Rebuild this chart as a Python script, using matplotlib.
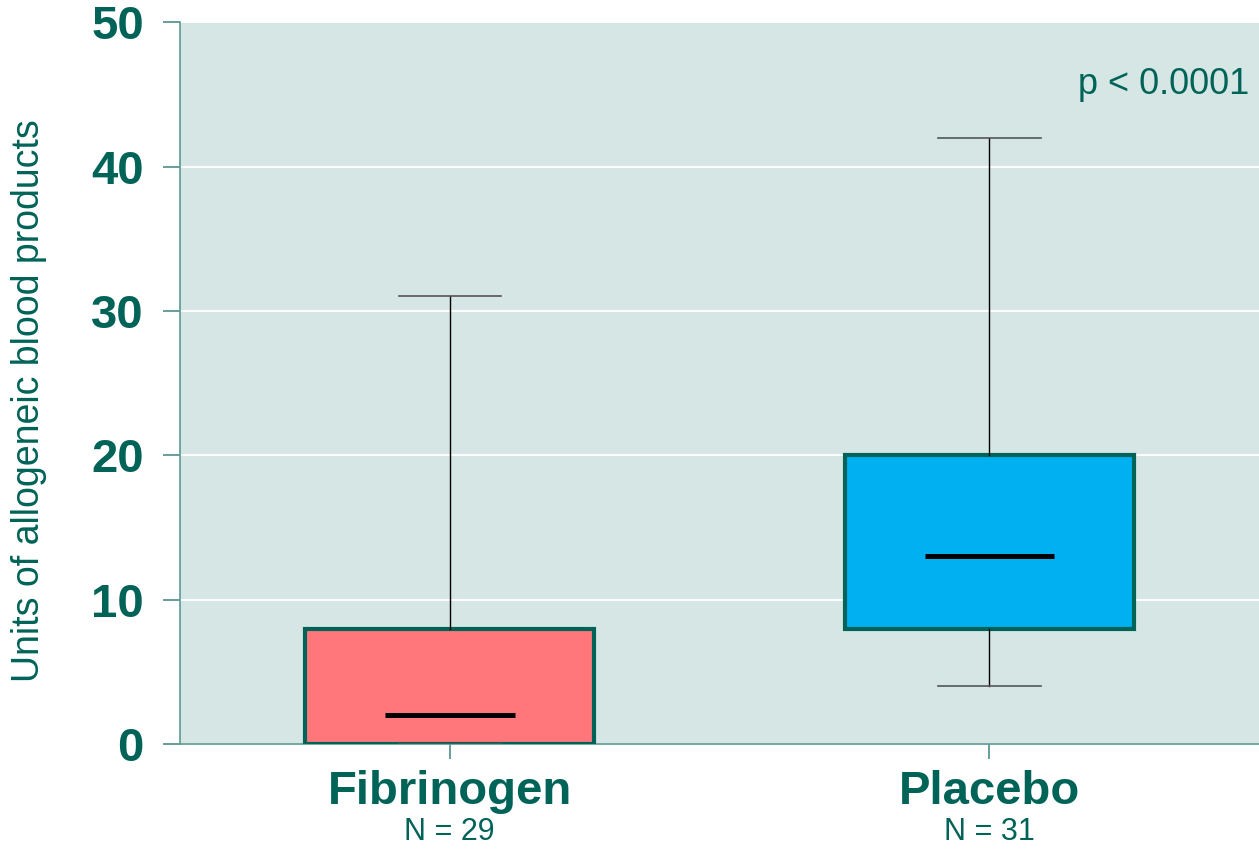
import matplotlib
matplotlib.use("Agg")
import matplotlib.pyplot as plt
from matplotlib.transforms import blended_transform_factory

groups=["Fibrinogen","Placebo"]
group_n=[29,31]
whisker_low=[0,4]
q1=[0,8]
medians=[2,13]
q3=[8,20]
whisker_high=[31,42]
fills=["#FF767B","#00B0F0"]
y_ticks=[0,10,20,30,40,50]
p_text="p < 0.0001"

TEAL="#006358"
plt.rcParams["font.family"]=["Liberation Sans","DejaVu Sans"]

fig=plt.figure(figsize=(12.59,8.51),dpi=100)
ax=fig.add_axes([0.143,0.1257,0.857,0.8483])
ax.set_facecolor("#D6E6E5")
stats=[{"label":g,"whislo":lo,"q1":a,"med":m,"q3":b,"whishi":hi,"fliers":[]} for g,lo,a,m,b,hi in zip(groups,whisker_low,q1,medians,q3,whisker_high)]
bp=ax.bxp(stats,positions=[1,2],widths=0.535,patch_artist=True,showfliers=False,
          boxprops=dict(edgecolor=TEAL,linewidth=3.0),medianprops=dict(color="black",linewidth=3.6),
          whiskerprops=dict(color="black",linewidth=1),capprops=dict(color="#555555",linewidth=1.2),capwidths=0.19,zorder=3)
for patch,c in zip(bp["boxes"],fills):patch.set_facecolor(c)
for i,line in enumerate(bp["medians"]):
    x0=[1,2][i];line.set_xdata([x0-0.12,x0+0.12])
ax.set_xlim(0.5,2.5);ax.set_ylim(0,50)
ax.set_yticks(y_ticks);ax.set_yticklabels([str(t) for t in y_ticks],fontsize=34,fontweight="bold",color=TEAL)
ax.yaxis.grid(True,color="white",linewidth=1.3);ax.set_axisbelow(True)
ax.set_xticks([1,2]);ax.set_xticklabels(groups,fontsize=34,fontweight="bold",color=TEAL)
ax.tick_params(axis="y",length=12,width=1.2,color="#4E8F89",pad=14)
ax.tick_params(axis="x",length=11,width=1.2,color="#4E8F89",pad=8)
ax.spines[["top","right"]].set_visible(False)
ax.spines["left"].set_color("#5A9A94");ax.spines["bottom"].set_color("#5A9A94")
ax.spines["left"].set_linewidth(1.2);ax.spines["bottom"].set_linewidth(1.2)
ax.set_ylabel("Units of allogeneic blood products",fontsize=27,color=TEAL)
ax.yaxis.set_label_coords(-0.123,0.476)
tr=blended_transform_factory(ax.transData,fig.transFigure)
for x,n in zip([1,2],group_n):ax.text(x,1-840/851,f"N = {n}",transform=tr,ha="center",va="baseline",fontsize=22,color=TEAL)
ax.text(0.991,45.0,p_text,transform=blended_transform_factory(ax.transAxes,ax.transData),ha="right",va="baseline",fontsize=26,color=TEAL)
fig.savefig("out.png",dpi=100)
